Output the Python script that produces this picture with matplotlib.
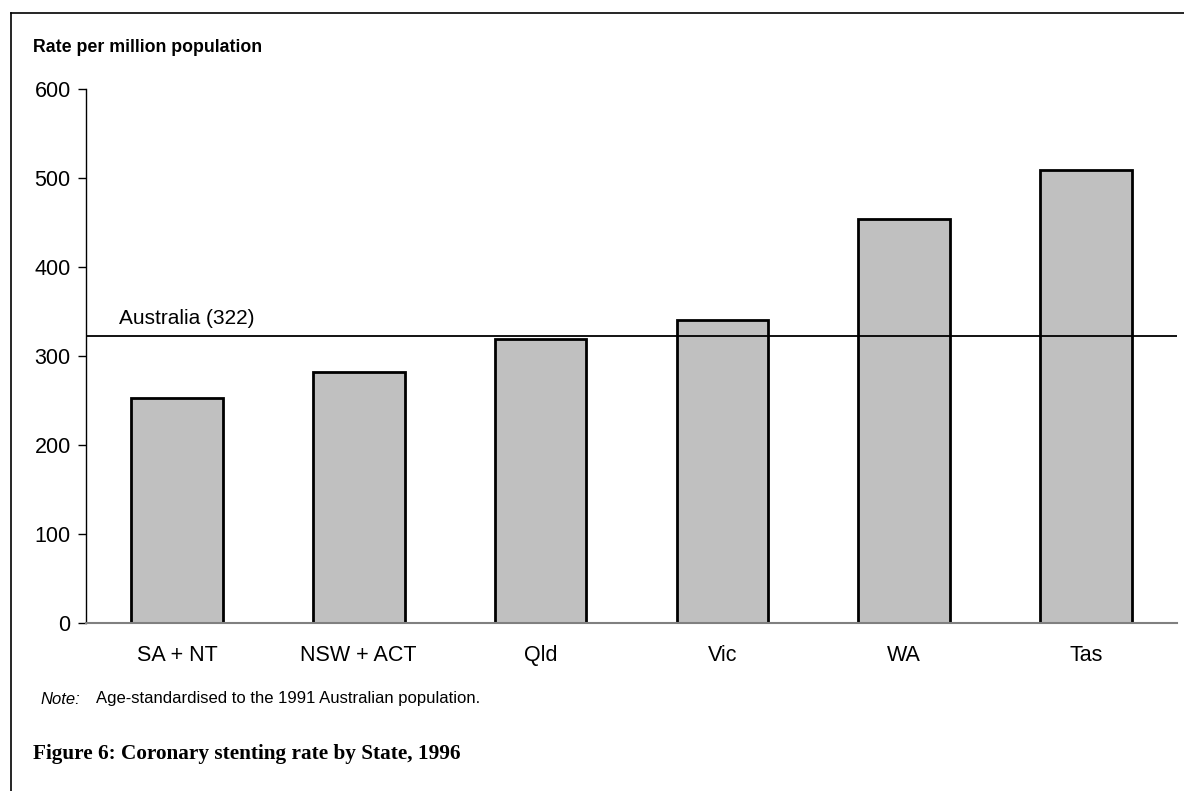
import matplotlib
matplotlib.use("Agg")
import matplotlib.pyplot as plt
from matplotlib.lines import Line2D

states = ["SA + NT", "NSW + ACT", "Qld", "Vic", "WA", "Tas"]
rates = [253, 282, 319, 340, 454, 509]
australia_rate = 322
y_ticks = [0, 100, 200, 300, 400, 500, 600]

plt.rcParams["font.family"] = ["Liberation Sans", "DejaVu Sans"]

W, H = 1184, 791
fig = plt.figure(figsize=(W / 100, H / 100), dpi=100)

# plot area in pixel coordinates
left, right, top, bottom = 86, 1177, 89, 623
ax = fig.add_axes([left / W, 1 - bottom / H, (right - left) / W, (bottom - top) / H])

x = list(range(len(states)))
ax.bar(x, rates, width=0.505, color="#c0c0c0", edgecolor="black", linewidth=2.0, zorder=2)
ax.axhline(australia_rate, color="black", linewidth=1.3, zorder=3)
ax.text(-0.32, australia_rate + 9, f"Australia ({australia_rate})",
        fontsize=15, ha="left", va="bottom")

ax.set_xlim(-0.5, len(states) - 0.5)
ax.set_ylim(0, 600)
ax.set_yticks(y_ticks)
ax.set_yticklabels([str(v) for v in y_ticks], fontsize=15.5)
ax.set_xticks(x)
ax.set_xticklabels(states, fontsize=15.5)
ax.tick_params(axis="x", length=0, pad=16)
ax.tick_params(axis="y", length=6, width=1, direction="out", pad=5)
ax.spines["top"].set_visible(False)
ax.spines["right"].set_visible(False)
ax.spines["left"].set_linewidth(1)
ax.spines["bottom"].set_color("#808080")
ax.spines["bottom"].set_linewidth(1.5)

# frame lines along the left and top of the figure
fig.add_artist(Line2D([11 / W, 11 / W], [0, 1 - 13 / H], color="black", linewidth=1.2,
                      transform=fig.transFigure))
fig.add_artist(Line2D([11 / W, 1], [1 - 13 / H, 1 - 13 / H], color="black", linewidth=1.2,
                      transform=fig.transFigure))

fig.text(33 / W, 1 - 48 / H, "Rate per million population", fontsize=12.8, fontweight="bold",
         ha="left", va="center")
fig.text(40 / W, 1 - 699 / H, "Note:", fontsize=12, style="italic", ha="left", va="center")
fig.text(96 / W, 1 - 699 / H, "Age-standardised to the 1991 Australian population.", fontsize=12,
         ha="left", va="center")
fig.text(33 / W, 1 - 754 / H, "Figure 6: Coronary stenting rate by State, 1996", fontsize=15.3,
         fontweight="bold", family=["Liberation Serif", "DejaVu Serif"], ha="left", va="center")

fig.savefig("out.png", dpi=100)
